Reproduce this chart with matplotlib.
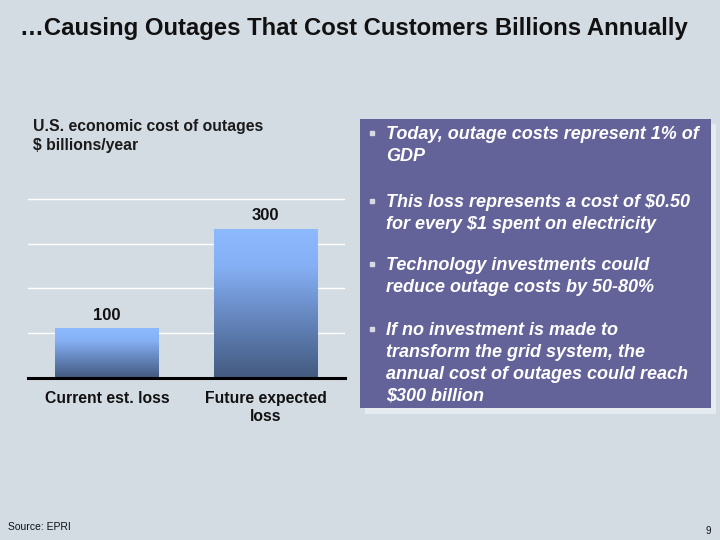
import matplotlib.pyplot as plt
from matplotlib.colors import LinearSegmentedColormap
from matplotlib.patches import Rectangle
import numpy as np

plt.rcParams["font.family"] = ["Liberation Sans", "DejaVu Sans"]

categories = ["Current est. loss", "Future expected\nloss"]
values = [100, 300]
grid_levels = [90, 180, 270, 360]
bullets = [
    "Today, outage costs represent 1% of\nGDP",
    "This loss represents a cost of $0.50\nfor every $1 spent on electricity",
    "Technology investments could\nreduce outage costs by 50-80%",
    "If no investment is made to\ntransform the grid system, the\nannual cost of outages could reach\n$300 billion",
]
bullet_tops = [133, 201, 264, 329]

W, H = 720, 540
BG = "#D3DBE3"


def fx(x):
    return x / W


def fy(y):
    return 1 - y / H


fig = plt.figure(figsize=(7.2, 5.4), dpi=100)
fig.patch.set_facecolor(BG)

fig.text(fx(20), fy(28), "\u2026Causing Outages That Cost Customers Billions Annually",
         fontsize=17.2, fontweight="bold", va="center", ha="left", color="#111111")

fig.text(fx(33), fy(126), "U.S. economic cost of outages", fontsize=11.3,
         fontweight="bold", va="center", color="#1a1a1a")
fig.text(fx(33), fy(145), "$ billions/year", fontsize=11.3,
         fontweight="bold", va="center", color="#1a1a1a")

# bar chart
ax = fig.add_axes([fx(28), fy(378), fx(345) - fx(28), fy(190) - fy(378)])
ax.set_facecolor(BG)
ax.set_xlim(-0.5, 1.5)
ax.set_ylim(0, 378)
for s in ax.spines.values():
    s.set_visible(False)
ax.set_xticks([])
ax.set_yticks([])
for g in grid_levels:
    ax.axhline(g, color="white", lw=1.0, zorder=1)
ax.axhline(0, color="black", lw=2.2, zorder=5, clip_on=False)

cmap = LinearSegmentedColormap.from_list(
    "bar", [(0, "#435A80"), (0.45, "#6A8CC6"), (0.75, "#86B0F5"), (1, "#8DB9FF")])
grad = np.linspace(0, 1, 256).reshape(-1, 1)
width = 0.656
for i, v in enumerate(values):
    rect = Rectangle((i - width / 2, 0), width, v, facecolor="none", edgecolor="none")
    ax.add_patch(rect)
    im = ax.imshow(grad, cmap=cmap, origin="lower", aspect="auto",
                   extent=(i - width / 2, i + width / 2, 0, v), zorder=2)
    im.set_clip_path(rect)
    ax.annotate(str(v), (i, v), xytext=(0, 9.5), textcoords="offset points",
                ha="center", va="center", fontsize=12, fontweight="bold", color="#111111")
    ax.annotate(categories[i], (i, 0), xytext=(0, -9.5), textcoords="offset points",
                ha="center", va="top", fontsize=11.3, fontweight="bold", color="#111111",
                linespacing=1.2, annotation_clip=False)

# text panel with shadow
fig.patches.append(Rectangle((fx(365), fy(414)), fx(716) - fx(365), fy(124) - fy(414),
                             transform=fig.transFigure, facecolor="#E6EBF0", edgecolor="none", zorder=0))
fig.patches.append(Rectangle((fx(360), fy(408)), fx(711) - fx(360), fy(119) - fy(408),
                             transform=fig.transFigure, facecolor="#63639A", edgecolor="none", zorder=1))

for top, txt in zip(bullet_tops, bullets):
    fig.text(fx(386), fy(top - 7), txt, fontsize=13, fontweight="bold", style="italic",
             color="white", va="top", ha="left", linespacing=1.37, zorder=3)
    fig.add_artist(plt.Line2D([fx(372)], [fy(top)], marker="s", markersize=3.5,
                              color="#D9D9E6", transform=fig.transFigure, zorder=3))

fig.text(fx(8), fy(527), "Source: EPRI", fontsize=7.5, va="center", color="#111111")
fig.text(fx(706), fy(531), "9", fontsize=7, va="center", color="#111111")

fig.savefig("out.png", dpi=100, facecolor=BG)
